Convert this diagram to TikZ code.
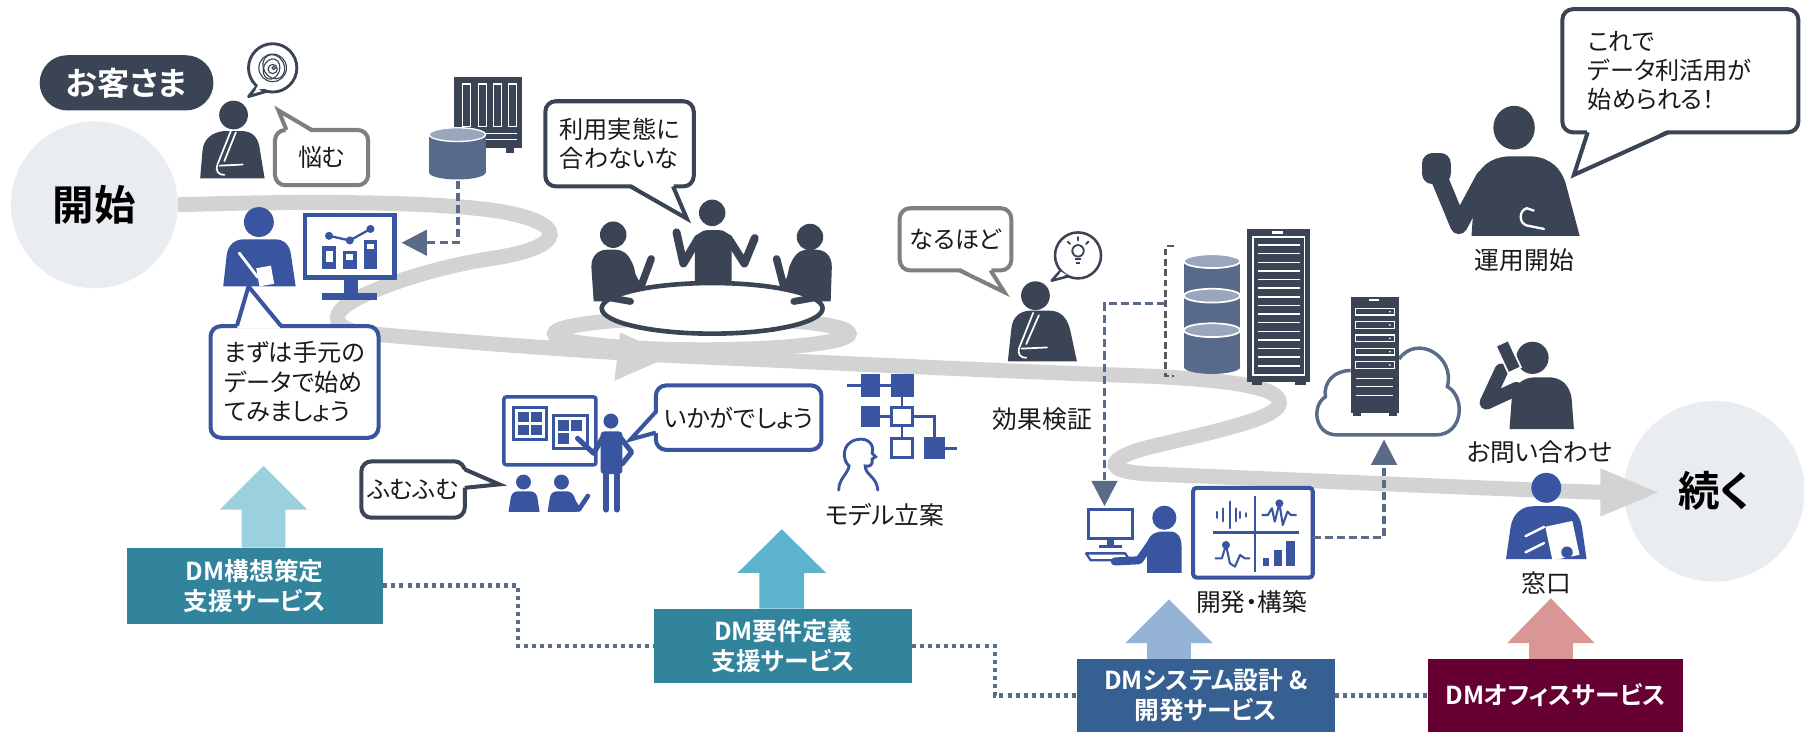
\documentclass[tikz,border=0pt]{standalone}
\usepackage{fontspec}
\newfontfamily\jp[RawFeature=+palt]{Noto Sans CJK JP}
\newfontfamily\jpbold[RawFeature=+palt]{Noto Sans CJK JP Bold}
\usetikzlibrary{arrows.meta,calc}

\definecolor{dk}{HTML}{3B4455}
\definecolor{bl}{HTML}{3A55A0}
\definecolor{sl}{HTML}{576A89}
\definecolor{sllt}{HTML}{9AA6BB}
\definecolor{gy}{HTML}{7F7F7F}
\definecolor{bandc}{HTML}{D3D3D3}
\definecolor{disc}{HTML}{E9ECF1}
\definecolor{dashc}{HTML}{5A6B88}
\definecolor{brk}{HTML}{595959}
\definecolor{txtc}{HTML}{1A1A1A}
\definecolor{svcteal}{HTML}{31849B}
\definecolor{svcblue}{HTML}{376092}
\definecolor{svcwine}{HTML}{660033}
\definecolor{arA}{HTML}{9BD0DE}
\definecolor{arB}{HTML}{5DB3CB}
\definecolor{arC}{HTML}{95B3D7}
\definecolor{arD}{HTML}{DA9694}

\tikzset{
  band/.style={draw=bandc, line width=13, line cap=butt},
  lbl/.style={font=\jp\fontsize{21.5}{26}\selectfont, text=txtc, inner sep=0pt},
  bub/.style={font=\jp\fontsize{21}{25.5}\selectfont, text=txtc, fill=white,
    rounded corners=9, inner sep=0pt, line width=3.5, align=left},
  tail/.style={line width=3.5, line join=miter},
  svc/.style={font=\jpbold\fontsize{21.5}{26}\selectfont, text=white,
    inner sep=0pt, align=center},
  dashln/.style={draw=dashc, line width=3, dash pattern=on 7pt off 3.5pt},
  dotln/.style={draw=dashc, line width=4, dash pattern=on 3.5pt off 3.5pt},
  disk/.style={circle, fill=disc, inner sep=0pt,
    font=\jpbold\fontsize{36}{40}\selectfont, text=black},
}

\begin{document}
\begin{tikzpicture}[x=1pt,y=-1pt]
\useasboundingbox (0,0) rectangle (1568,636);
\fill[white] (0,0) rectangle (1568,636);

% start and end discs
\node[disk, minimum size=145] (start) at (82,178) {開始};
\node[disk, minimum size=157] (goal) at (1490,427) {};

% the winding road
\draw[band] (start.east) .. controls (280,174) and (380,176) .. (430,183)
  .. controls (495,193) and (495,215) .. (425,225)
  .. controls (380,232) and (330,248) .. (306,262)
  .. controls (285,274) and (290,287) .. (320,290)
  .. controls (400,297) and (480,303) .. (560,308)
  .. controls (700,314) and (850,322) .. (1000,327)
  .. controls (1080,331) and (1112,338) .. (1112,350)
  .. controls (1112,362) and (1070,372) .. (1010,386)
  .. controls (960,397) and (955,410) .. (1000,412)
  .. controls (1150,418) and (1300,425) .. (1395,428);
\coordinate (roadend) at (1441,428);
\fill[bandc] (1391,407) -- (roadend) -- (1391,449) -- cycle;
\node[font=\jpbold\fontsize{36}{40}\selectfont, text=black, inner sep=0pt] (goaltxt) at (goal.center) {続く};
\draw[band] (610,290) ellipse[x radius=128, y radius=14];
\fill[bandc] (539,289) -- (584,309) -- (534,331) -- cycle;

% customer tag
\node[fill=dk, rounded corners=24, minimum width=151, minimum height=48,
  inner sep=0pt, font=\jpbold\fontsize{28}{32}\selectfont, text=white] (cust) at (110,72) {お客さま};

% worried customer
\fill[dk] (203,100) circle[radius=12.5];
\fill[dk] (174,155) -- (176,131) .. controls (177,120) and (185,115) .. (194,114) -- (212,114)
  .. controls (221,115) and (225,121) .. (226,131) -- (230,155) -- cycle;
\draw[white,line width=1.5,line cap=round] (201,113) -- (189,143) .. controls (187,149) and (190,152) .. (195,152);
\draw[white,line width=1.5,line cap=round] (191,144) -- (211,143);
\draw[white,line width=1.5,line cap=round] (205,115) -- (195,140);

% tangled thought
\fill[white] (224,75) -- (216,84) -- (232,79) -- cycle;
\draw[dk,line width=2.5,line join=round] (224,74) -- (216,84) -- (233,79);
\draw[dk,line width=2.5,fill=white] (237,59) circle[radius=21];
\fill[white] (225,73) -- (222,78) -- (230,77) -- cycle;
\draw[dk,line width=1] (237,59) circle[radius=12];
\draw[dk,line width=1] (238,58) ellipse[x radius=9,y radius=11,rotate=30];
\draw[dk,line width=1] (236,60) ellipse[x radius=7,y radius=9,rotate=-20];
\draw[dk,line width=1] (237,60) circle[radius=4];
\draw[dk,line width=1] (238,59) circle[radius=1.5];

% worry bubble
\node[bub, draw=gy, minimum width=81, minimum height=48] (worry) at (279.5,137) {悩む};
\fill[white] (249,115.5) -- (242,96) -- (271,115.5) -- cycle;
\draw[tail, draw=gy] (249,113) -- (242,96) -- (271,113);

% data store with server
\fill[dk] (395,67) rectangle (454,129);
\foreach \x in {402,416,429,442} \draw[white,line width=1] (\x,73) rectangle (\x+7,110);
\draw[white,line width=1] (400,116) -- (449,116);
\draw[white,line width=1] (400,121) -- (449,121);
\fill[dk] (440,129) rectangle (447,133);
\fill[sl] (373,117) rectangle (422,150);
\fill[sl] (397.5,150) ellipse[x radius=24.5,y radius=6];
\filldraw[fill=sllt,draw=white,line width=1.2] (397.5,117) ellipse[x radius=24.5,y radius=6];
\coordinate (dbfoot) at (398,157);

% analyst writing
\fill[bl] (225,193) circle[radius=13];
\fill[bl] (194,249) -- (197,222) .. controls (198,213) and (204,208) .. (212,208) -- (239,208)
  .. controls (247,208) and (252,213) .. (253,222) -- (257,249) -- cycle;
\fill[white,rotate around={10:(230,240)}] (224,232) rectangle (237,248);
\draw[white,line width=2.5,line cap=round] (208,220) -- (224,241);

% chart monitor
\draw[bl,line width=4] (265,187) rectangle (343,241);
\fill[bl] (299,241) rectangle (311,256);
\fill[bl] (280,255) rectangle (328,261);
\fill[bl] (280,214) rectangle (292,234);
\fill[bl] (298,218) rectangle (310,234);
\fill[bl] (316,209) rectangle (328,234);
\fill[white] (283,218) rectangle (289,228);
\fill[white] (301,221) rectangle (307,226);
\fill[white] (319,212) rectangle (325,216);
\draw[bl,line width=2] (286,205) -- (304,209) -- (322,199);
\foreach \p in {(286,205),(304,209),(322,199)} \fill[bl] \p circle[radius=3.5];
\coordinate (chartR) at (349,211);
\draw[dashln, -{Triangle[width=22pt,length=22pt,fill=dashc]}] (dbfoot) |- (chartR);

% first advice bubble
\node[bub, draw=bl, minimum width=146, minimum height=97] (hint) at (256,332)
  {まずは手元の\\データで始め\\てみましょう};
\fill[white] (206,285.5) -- (216,249) -- (244,285.5) -- cycle;
\draw[tail, draw=bl] (206,283) -- (216,249) -- (244,283);

% meeting table
\fill[dk] (619,185) circle[radius=11.5];
\fill[dk] (604,250) -- (604,212) .. controls (604,204) and (609,200) .. (616,200) -- (624,200)
  .. controls (631,200) and (636,204) .. (636,212) -- (636,250) -- cycle;
\draw[dk,line width=7,line cap=round,line join=round] (607,207) -- (594,229) -- (588,202);
\draw[dk,line width=7,line cap=round,line join=round] (633,207) -- (647,229) -- (656,207);
\fill[dk] (533,204) circle[radius=11.5];
\fill[dk] (516,262) -- (514,232) .. controls (514,222) and (520,217) .. (528,217) -- (534,217)
  .. controls (543,217) and (547,222) .. (551,232) -- (557,262) -- cycle;
\draw[dk,line width=6.5,line cap=round,line join=round] (543,228) -- (556,252) -- (566,225);
\fill[dk] (704,206) circle[radius=11.5];
\fill[dk] (722,262) -- (723,232) .. controls (723,222) and (717,217) .. (709,217) -- (703,217)
  .. controls (694,217) and (690,222) .. (686,232) -- (680,262) -- cycle;
\draw[dk,line width=6.5,line cap=round,line join=round] (694,228) -- (682,252) -- (675,225);
\filldraw[fill=white,draw=dk,line width=4] (619,268) ellipse[x radius=96,y radius=22];
\draw[dk,line width=6,line cap=round] (531,259) -- (548,262);
\draw[dk,line width=6,line cap=round] (707,259) -- (690,262);

% meeting bubble
\node[bub, draw=dk, minimum width=129, minimum height=74] (mtg) at (538.5,125)
  {利用実態に\\合わないな};
\fill[white] (548,159.5) -- (597,190) -- (585,159.5) -- cycle;
\draw[tail, draw=dk] (548,162) -- (597,190) -- (585,162);

% presentation board
\draw[bl,line width=3,rounded corners=2] (438,345) rectangle (518,404);
\draw[bl,line width=2.5] (446,354) rectangle (475,382);
\fill[bl] (450,358) rectangle (459.5,367); \fill[bl] (461.5,358) rectangle (471,367);
\fill[bl] (450,369) rectangle (459.5,378); \fill[bl] (461.5,369) rectangle (471,378);
\draw[bl,line width=2.5] (481,361) rectangle (511,390);
\fill[bl] (485,365) rectangle (494.5,374.5); \fill[bl] (496.5,365) rectangle (506,374.5);
\fill[bl] (485,376.5) rectangle (494.5,386);
% presenter
\fill[bl] (531,366) circle[radius=6.5];
\fill[bl,rounded corners=3] (522,375) rectangle (541,412);
\draw[bl,line width=5,line cap=round] (527,410) -- (527,443);
\draw[bl,line width=5,line cap=round] (536,410) -- (536,443);
\draw[bl,line width=4.5,line cap=round,line join=round] (524,380) -- (516,394) -- (502,381);
\draw[bl,line width=4.5,line cap=round,line join=round] (539,380) -- (549,393) -- (541,403);
% audience
\fill[bl] (455,419) circle[radius=6.5];
\fill[bl] (442,445) -- (444,432) .. controls (445,428) and (448,427) .. (451,427) -- (460,427)
  .. controls (463,427) and (466,428) .. (467,432) -- (469,445) -- cycle;
\fill[bl] (488,419) circle[radius=6.5];
\fill[bl] (476,445) -- (478,432) .. controls (479,428) and (482,427) .. (485,427) -- (493,427)
  .. controls (496,427) and (499,430) .. (500,434) -- (502,445) -- cycle;
\draw[bl,line width=4,line cap=round,line join=round] (496,432) -- (503,443) -- (511,431);

\node[bub, draw=bl, minimum width=144, minimum height=56] (pitch) at (642,363) {いかがでしょう};
\fill[white] (572.5,358) -- (548,382) -- (572.5,376) -- cycle;
\draw[tail, draw=bl] (570,358) -- (548,382) -- (570,376);

\node[bub, draw=dk, minimum width=90, minimum height=49] (nod) at (359,425.5) {ふむふむ};
\fill[white] (401.5,408) -- (434,421) -- (401.5,424) -- cycle;
\draw[tail, draw=dk] (404,408) -- (434,421) -- (404,424);

% model planning icon
\draw[bl,line width=2.5] (736,335) -- (784,335);
\draw[bl,line width=2.5] (784,335) -- (784,390);
\draw[bl,line width=2.5] (756,362) -- (784,362);
\draw[bl,line width=2.5] (794,362) -- (812,362) -- (812,390);
\draw[bl,line width=2.5] (812,390) -- (832,390);
\fill[bl] (748,325) rectangle (765,345);
\fill[bl] (774,325) rectangle (794,345);
\fill[bl] (748,353) rectangle (765,371);
\filldraw[fill=white,draw=bl,line width=2.5] (775,354) rectangle (793,370);
\filldraw[fill=white,draw=bl,line width=2.5] (775,381) rectangle (793,398);
\fill[bl] (803,380) rectangle (821,399);
\draw[bl,line width=2.5,line cap=round] (729,426) .. controls (729,416) and (737,412) .. (738,405)
  .. controls (732,400) and (731,385) .. (745,382) .. controls (756,380) and (760,388) .. (758,394)
  -- (761,397) -- (758,399) .. controls (759,404) and (756,406) .. (752,405)
  .. controls (752,413) and (762,414) .. (763,426);
\node[lbl] (model) at (769,448) {モデル立案};

% insight
\node[bub, draw=gy, minimum width=97, minimum height=54] (aha) at (830.5,208) {なるほど};
\fill[white] (834,232.5) -- (873,254) -- (861,232.5) -- cycle;
\draw[tail, draw=gy] (834,235) -- (873,254) -- (861,235);
\fill[white] (921,236) -- (914,244) -- (928,240) -- cycle;
\draw[dk,line width=2.2,line join=round] (922,235) -- (914,244) -- (929,240);
\draw[dk,line width=2.2,fill=white] (937,222) circle[radius=20];
\fill[white] (922,236) -- (920,240) -- (927,239) -- cycle;
\draw[dk,line width=1.6] (937,218) circle[radius=5];
\draw[dk,line width=1.6] (934,225) -- (940,225);
\draw[dk,line width=1.6] (935,228.5) -- (939,228.5);
\draw[dk,line width=1.6,line cap=round] (937,206) -- (937,209);
\draw[dk,line width=1.6,line cap=round] (928,210) -- (930,212);
\draw[dk,line width=1.6,line cap=round] (946,210) -- (944,212);
\fill[dk] (900,257) circle[radius=12.5];
\fill[dk] (876,314) -- (879,286) .. controls (880,275) and (887,270) .. (896,270) -- (912,270)
  .. controls (921,270) and (927,275) .. (930,286) -- (936,314) -- cycle;
\draw[white,line width=1.5,line cap=round] (898,272) -- (886,302) .. controls (884,308) and (887,311) .. (892,311);
\draw[white,line width=1.5,line cap=round] (888,303) -- (910,302);
\draw[white,line width=1.5,line cap=round] (903,274) -- (892,299);
\node[lbl] (verify) at (906,364) {効果検証};

% storage rack
\draw[brk,line width=2.2,dash pattern=on 6pt off 3pt] (1020,214) -- (1013,214) -- (1013,327) -- (1020,327);
\fill[sl] (1029,227) rectangle (1078,319);
\fill[sl] (1053.5,319) ellipse[x radius=24.5,y radius=6];
\foreach \y in {227,257,287}
  \filldraw[fill=sllt,draw=white,line width=1.5] (1053.5,\y) ellipse[x radius=24.5,y radius=6];
\fill[dk] (1084,199) rectangle (1139,332);
\draw[white,line width=1.3] (1089,206) rectangle (1134,326);
\foreach \y in {213,220.5,...,320} \draw[white,line width=1.3] (1093,\y) -- (1130,\y);
\fill[white] (1106,201) rectangle (1115,203);
\fill[dk] (1088,332) rectangle (1097,335);
\fill[dk] (1126,332) rectangle (1135,335);
\coordinate (rackL) at (1013,264);
\coordinate (devtop) at (960,440);
\draw[dashln, -{Triangle[width=22pt,length=22pt,fill=dashc]}] (rackL) -- (960,264) -- (devtop);

% cloud server
\draw[dashc,line width=3] (1174,322) .. controls (1160,322) and (1150,332) .. (1152,345)
  .. controls (1140,352) and (1142,378) .. (1162,378) -- (1248,378)
  .. controls (1272,378) and (1274,345) .. (1258,336)
  .. controls (1265,310) and (1232,290) .. (1216,312);
\fill[dk] (1174,258) rectangle (1216,359);
\fill[white] (1190,260) rectangle (1199,262);
\foreach \y in {268,279.6,291.2,302.8,314.4} {
  \draw[white,line width=1] (1178,\y) rectangle (1212,\y+5.8);
  \fill[white] (1208,\y+2.9) circle[radius=0.8];
}
\foreach \y in {329,336,344} \draw[white,line width=1.2] (1179,\y) -- (1211,\y);
\fill[dk] (1176,359) rectangle (1183,362);
\fill[dk] (1207,359) rectangle (1214,362);
\coordinate (cloudfoot) at (1203,382);

% developer
\draw[bl,line width=2.5] (946,443) rectangle (984,468);
\fill[bl] (962,468) rectangle (968,474);
\draw[bl,line width=2] (955,475) -- (975,475);
\draw[bl,line width=2,line join=round] (944,481) -- (978,481) -- (982,487) -- (948,487) -- cycle;
\fill[bl] (1012,450) circle[radius=10.5];
\fill[bl] (997,498) -- (997,475) .. controls (997,466) and (1003,462) .. (1011,462) -- (1017,462)
  .. controls (1024,462) and (1027,467) .. (1027,476) -- (1027,498) -- cycle;
\draw[bl,line width=7,line cap=round,line join=round] (1002,470) -- (990,487) -- (969,488);

% dashboard
\draw[bl,line width=3.5,rounded corners=3] (1037,424) rectangle (1141,502);
\draw[bl,line width=2.2] (1091,431) -- (1091,497);
\draw[bl,line width=2.2] (1054,463) -- (1129,463);
\draw[bl,line width=2,line cap=round]
  (1058,445) -- (1058,450) (1063,442) -- (1063,453) (1069,436) -- (1069,459)
  (1074,442) -- (1074,453) (1078,445) -- (1078,450) (1083,446) -- (1083,449);
\draw[bl,line width=1.8,line join=round] (1096.6,447.6) -- (1102,447.6) -- (1105.5,441.8)
  -- (1108,453.4) -- (1112,437.5) -- (1115,456.3) -- (1119,444.7) -- (1122,447.6) -- (1127,447.6);
\fill[bl] (1112,437.5) circle[radius=3.5];
\draw[bl,line width=1.8,line join=round] (1056,485.3) -- (1062,485.3) -- (1065.6,473.7)
  -- (1069,489.6) -- (1073.4,492.5) -- (1077.8,482.4) -- (1082,485.3) -- (1086.5,485.3);
\fill[bl] (1065.6,473.7) circle[radius=3.5];
\fill[bl] (1098,485) rectangle (1103,492);
\fill[bl] (1107,478) rectangle (1114,492);
\fill[bl] (1118,470) rectangle (1126,492);
\coordinate (panelR) at (1141,467);
\draw[dashln, -{Triangle[width=22pt,length=22pt,fill=dashc]}] (panelR) -| (cloudfoot);
\node[lbl] (build) at (1088,523) {開発・構築};

% operation start
\fill[dk] (1316,111) ellipse[x radius=18,y radius=19];
\fill[dk] (1279,205) -- (1282,160) .. controls (1284,145) and (1296,137) .. (1310,136) -- (1332,136)
  .. controls (1347,137) and (1357,146) .. (1361,160) -- (1373,205) -- cycle;
\draw[dk,line width=15,line join=round,line cap=round] (1249,150) -- (1268,196) -- (1290,155);
\fill[dk,rounded corners=9] (1236,133) rectangle (1261,160);
\draw[white,line width=2,line cap=round] (1342,199) -- (1327,196) .. controls (1320,194) and (1320,183) .. (1327,181) -- (1333,183);
\node[lbl] (run) at (1325,226) {運用開始};
\node[bub, draw=dk, text width=161, inner xsep=22, minimum height=107] (done) at (1460.5,61.5)
  {これで\\データ利活用が\\始められる！};
\fill[white] (1380,112.5) -- (1368,152) -- (1450,112.5) -- cycle;
\draw[tail, draw=dk] (1380,115) -- (1368,152) -- (1450,115);

% inquiry
\fill[dk] (1332,311) circle[radius=14];
\fill[dk] (1312,373) -- (1314,346) .. controls (1316,334) and (1324,328) .. (1334,328) -- (1348,328)
  .. controls (1358,329) and (1364,335) .. (1366,346) -- (1368,373) -- cycle;
\draw[dk,line width=12,line cap=round,line join=round] (1318,338) -- (1292,350) -- (1305,322);
\filldraw[fill=dk,draw=white,line width=1.5,rotate around={25:(1311,310)}] (1305,297) rectangle (1317,323);
\node[lbl] (ask) at (1338,393) {お問い合わせ};

% help desk
\fill[bl] (1344,424) circle[radius=13];
\fill[bl] (1309,486) -- (1313,458) .. controls (1315,446) and (1323,440) .. (1333,440) -- (1355,440)
  .. controls (1366,440) and (1373,446) .. (1375,458) -- (1379,486) -- cycle;
\fill[white,rotate around={12:(1358,470)}] (1346,455) rectangle (1370,485);
\fill[bl] (1362,480) circle[radius=5];
\draw[white,line width=2.2,line cap=round] (1326,466) -- (1342,458);
\draw[white,line width=2.2,line cap=round] (1326,480) -- (1342,472);
\node[lbl] (desk) at (1344,507) {窓口};

% service arrows
\fill[arA] (229,405) -- (267,443) -- (248,443) -- (248,476) -- (210,476) -- (210,443) -- (191,443) -- cycle;
\fill[arB] (679.5,460) -- (718,498) -- (699,498) -- (699,529) -- (660,529) -- (660,498) -- (641,498) -- cycle;
\fill[arC] (1016,521) -- (1054,559) -- (1035,559) -- (1035,573) -- (997,573) -- (997,559) -- (978,559) -- cycle;
\fill[arD] (1348,520) -- (1386,559) -- (1367,559) -- (1367,573) -- (1329,573) -- (1329,559) -- (1310,559) -- cycle;

% service boxes
\node[svc, fill=svcteal, minimum width=223, minimum height=66] (s1) at (221.5,509) {DM構想策定\\支援サービス};
\node[svc, fill=svcteal, minimum width=224, minimum height=65] (s2) at (680.5,561.5) {DM要件定義\\支援サービス};
\node[svc, fill=svcblue, minimum width=224, minimum height=63] (s3) at (1048,604.5) {DMシステム設計 \&\\開発サービス};
\node[svc, fill=svcwine, minimum width=222, minimum height=63] (s4) at (1352,604.5) {DMオフィスサービス};

\draw[dotln] (s1.east) -- ++(117,0) |- (s2.west);
\draw[dotln] (s2.east) -- ++(72,0) |- (s3.west);
\draw[dotln] (s3.east) -- (s4.west);
\end{tikzpicture}
\end{document}
